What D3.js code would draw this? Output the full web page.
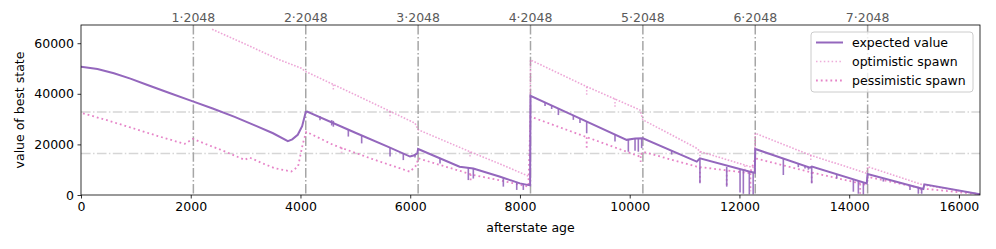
<!DOCTYPE html>
<html>
<head>
<meta charset="utf-8">
<script src="https://cdn.jsdelivr.net/npm/d3@7"></script>
<style>
  body { margin: 0; background: #fff; }
  svg { font-family: "DejaVu Sans", sans-serif; }
</style>
</head>
<body>
<div id="chart"></div>
<script>
// values
const expectedValue = [
  [0, 50700], [300, 49800], [600, 48100], [900, 46000], [1200, 43600], [1600, 40400],
  [2000, 37300], [2400, 34200], [2800, 30900], [3200, 27200], [3500, 24400], [3770, 21300],
  [3850, 22000], [3950, 23800], [4030, 27200], [4096, 32800], [4120, 33000],
  [5000, 24600], [5600, 19000], [5996, 15200], [6060, 15600], [6130, 16500],
  [6144, 18200], [6900, 11200], [7150, 10500], [7640, 7200], [8000, 4600], [8185, 3800],
  [8192, 39200], [9000, 31200], [9944, 21800], [10100, 22300], [10240, 22400],
  [11222, 13200], [11280, 14500], [12192, 9200], [12280, 8800],
  [12288, 18200], [13286, 10800], [13320, 11200], [14320, 4600],
  [14336, 8300], [15352, 2400], [15370, 4200], [16384, 300]
];
const optimisticSpawn = [
  [2390, 65500], [3000, 59600], [3600, 53600], [4015, 50100], [4096, 48800],
  [5000, 39600], [6087, 28400], [6144, 25800], [7090, 17100], [7600, 12600], [8183, 7200],
  [8192, 53400], [9200, 43000], [10188, 33600], [10240, 29700],
  [11222, 18500], [11280, 17200], [12192, 11200], [12280, 10800],
  [12288, 24400], [13286, 15800], [14320, 8600],
  [14336, 11200], [15350, 4000], [16384, 300]
];
const pessimisticSpawn = [
  [36, 32300], [500, 29400], [900, 26700], [1400, 23300], [1890, 20200], [2040, 22200],
  [2300, 19900], [2557, 17800], [2982, 13900], [3073, 14800], [3300, 12600], [3528, 10600],
  [3833, 9300], [3955, 11200], [4045, 20500], [4106, 25000],
  [4598, 19800], [5300, 14300], [5996, 9200], [6118, 11900],
  [6144, 14500], [7150, 7900], [7700, 5500], [8153, 3300],
  [8192, 31000], [9200, 23000], [10188, 15200], [10240, 17100],
  [11222, 11200], [12192, 8600],
  [12288, 14500], [13300, 9000], [14320, 4000],
  [14336, 7200], [15350, 2500], [16384, 300]
];
// downward spikes: [age, top, bottom]
const expectedDips = [
  [4356, 31100, 29500], [4569, 29600, 27500], [4599, 29300, 27000], [4872, 26100, 23100],
  [5115, 23700, 20400], [5632, 18800, 15200], [5874, 16600, 13800], [6087, 16000, 14800],
  [6543, 14500, 12500], [7059, 10900, 5900], [7150, 10500, 6500], [7697, 6900, 3300],
  [7941, 5000, 2000], [8061, 4400, 2000],
  [8457, 36600, 35200], [8578, 35400, 34000], [8700, 34200, 31600], [8973, 31500, 29700],
  [9094, 30300, 28500], [9216, 29000, 24400], [9732, 23900, 21100], [9975, 21900, 17100],
  [10097, 22200, 17500], [10157, 22300, 17100], [10218, 22400, 18500],
  [10765, 17500, 16000], [11280, 14500, 4600], [11768, 11100, 3300], [12011, 10000, 1000],
  [12071, 9700, 500], [12180, 9200, 300], [12250, 9000, 300],
  [12800, 14600, 7900], [13073, 12400, 11000], [13195, 11500, 10500], [13256, 11000, 10000],
  [13317, 11200, 4600], [13773, 7900, 6500], [14076, 6200, 1300], [14167, 5600, 500],
  [14258, 5000, 300],
  [14622, 6300, 5300], [15108, 3700, 2000], [15260, 3000, 500], [15321, 2700, 500]
];
const optimisticDips = [
  [4599, 43600, 41500], [5632, 33000, 30300], [7090, 17100, 14500], [9216, 42800, 38900],
  [9732, 38100, 34300], [11280, 17200, 14800], [12100, 11700, 9000], [13300, 15700, 13200]
];
const pessimisticDips = [
  [4750, 18800, 16800], [7100, 8200, 5600], [9216, 22800, 17800], [10200, 15300, 13000],
  [11280, 10900, 4300], [11768, 9700, 3300], [12200, 8600, 1500], [13317, 9000, 4600],
  [14200, 4500, 500], [15300, 2600, 800]
];
const xTicks = [0, 2000, 4000, 6000, 8000, 10000, 12000, 14000, 16000];
const yTicks = [0, 20000, 40000, 60000];
const boundaryMultiples = [1, 2, 3, 4, 5, 6, 7];
const tileLevels = [16384, 32768];
const legendLabels = ["expected value", "optimistic spawn", "pessimistic spawn"];

const chartWidth = 996, chartHeight = 249;
const plotLeft = 81, plotRight = 980, plotTop = 25, plotBottom = 195;

const x = d3.scaleLinear().domain([0, 16384]).range([plotLeft, plotRight]);
const y = d3.scaleLinear().domain([0, 67200]).range([plotBottom, plotTop]);

const purple = "#9467bd", pink = "#e377c2";

const svg = d3.select("#chart").append("svg")
    .attr("width", chartWidth)
    .attr("height", chartHeight);

svg.append("defs").append("clipPath").attr("id", "plot")
  .append("rect")
    .attr("x", plotLeft).attr("y", plotTop)
    .attr("width", plotRight - plotLeft).attr("height", plotBottom - plotTop);

// reference lines
const grid = svg.append("g").attr("clip-path", "url(#plot)");
grid.selectAll("line.h")
  .data(tileLevels)
  .enter().append("line")
    .attr("x1", plotLeft).attr("x2", plotRight)
    .attr("y1", d => y(d)).attr("y2", d => y(d))
    .style("stroke", "#d6d6d6")
    .style("stroke-width", 1.5)
    .style("stroke-dasharray", "9.6,2.4,1.5,2.4");
grid.selectAll("line.v")
  .data(boundaryMultiples)
  .enter().append("line")
    .attr("x1", d => x(d * 2048)).attr("x2", d => x(d * 2048))
    .attr("y1", plotTop).attr("y2", plotBottom)
    .style("stroke", "#a6a6a6")
    .style("stroke-width", 1.5)
    .style("stroke-dasharray", "9.6,2.4,1.5,2.4");

const line = d3.line().x(d => x(d[0])).y(d => y(d[1]));
const plot = svg.append("g").attr("clip-path", "url(#plot)");

function drawDips(dips, color, strokeWidth, dash, opacity) {
    plot.append("g").selectAll("line")
      .data(dips)
      .enter().append("line")
        .attr("x1", d => x(d[0])).attr("x2", d => x(d[0]))
        .attr("y1", d => y(d[1])).attr("y2", d => y(d[2]))
        .style("stroke", color)
        .style("stroke-width", strokeWidth)
        .style("stroke-dasharray", dash)
        .style("opacity", opacity);
}

plot.append("path")
    .datum(optimisticSpawn)
    .attr("d", line)
    .style("fill", "none")
    .style("stroke", pink)
    .style("stroke-width", 1.6)
    .style("stroke-dasharray", "1.6,1.6")
    .style("opacity", 0.65);
drawDips(optimisticDips, pink, 1.5, "1.5,1.8", 0.6);

plot.append("path")
    .datum(pessimisticSpawn)
    .attr("d", line)
    .style("fill", "none")
    .style("stroke", pink)
    .style("stroke-width", 1.8)
    .style("stroke-dasharray", "1.8,3")
    .style("opacity", 0.9);
drawDips(pessimisticDips, pink, 1.8, "1.8,2.5", 0.85);

plot.append("path")
    .datum(expectedValue)
    .attr("d", line)
    .style("fill", "none")
    .style("stroke", purple)
    .style("stroke-width", 2);
drawDips(expectedDips, purple, 1.6, null, 0.9);

// axes
const xAxis = svg.append("g")
    .attr("transform", `translate(0,${plotBottom})`)
    .call(d3.axisBottom(x).tickValues(xTicks).tickFormat(d3.format("d")).tickSize(3.5).tickPadding(3.5));
const yAxis = svg.append("g")
    .attr("transform", `translate(${plotLeft},0)`)
    .call(d3.axisLeft(y).tickValues(yTicks).tickFormat(d3.format("d")).tickSize(3.5).tickPadding(3.5));
[xAxis, yAxis].forEach(a => {
    a.select(".domain").remove();
    a.selectAll("text").style("font-size", "12.5px").style("fill", "#000")
        .style("font-family", "DejaVu Sans, sans-serif");
    a.selectAll("line").style("stroke", "#000").style("stroke-width", 0.8);
});

svg.append("rect")
    .attr("x", plotLeft).attr("y", plotTop)
    .attr("width", plotRight - plotLeft).attr("height", plotBottom - plotTop)
    .style("fill", "none")
    .style("stroke", "#000")
    .style("stroke-width", 0.8);

// top labels for multiples of 2048
svg.append("g").selectAll("text")
  .data(boundaryMultiples)
  .enter().append("text")
    .attr("x", d => x(d * 2048))
    .attr("y", 22)
    .attr("text-anchor", "middle")
    .style("font-size", "12.5px")
    .style("fill", "#5a5a5a")
    .text(d => d + "\u00b72048");

svg.append("text")
    .attr("x", (plotLeft + plotRight) / 2)
    .attr("y", 232)
    .attr("text-anchor", "middle")
    .style("font-size", "12.5px")
    .text("afterstate age");

svg.append("text")
    .attr("transform", `translate(24,${(plotTop + plotBottom) / 2}) rotate(-90)`)
    .attr("text-anchor", "middle")
    .style("font-size", "12.5px")
    .text("value of best state");

// legend
const legend = svg.append("g");
legend.append("rect")
    .attr("x", 811).attr("y", 32)
    .attr("width", 162).attr("height", 60)
    .attr("rx", 3)
    .style("fill", "#fff")
    .style("fill-opacity", 0.8)
    .style("stroke", "#ccc")
    .style("stroke-width", 1);
const legendStyles = [
    { color: purple, width: 2, dash: null, opacity: 1 },
    { color: pink, width: 1.5, dash: "1.5,2.4", opacity: 0.6 },
    { color: pink, width: 1.8, dash: "1.8,3", opacity: 0.9 }
];
legendLabels.forEach((label, i) => {
    const ly = 42.5 + i * 19;
    const s = legendStyles[i];
    legend.append("line")
        .attr("x1", 816).attr("x2", 843)
        .attr("y1", ly).attr("y2", ly)
        .style("stroke", s.color)
        .style("stroke-width", s.width)
        .style("stroke-dasharray", s.dash)
        .style("opacity", s.opacity);
    legend.append("text")
        .attr("x", 852).attr("y", ly + 4.5)
        .style("font-size", "12.5px")
        .text(label);
});
</script>
</body>
</html>
